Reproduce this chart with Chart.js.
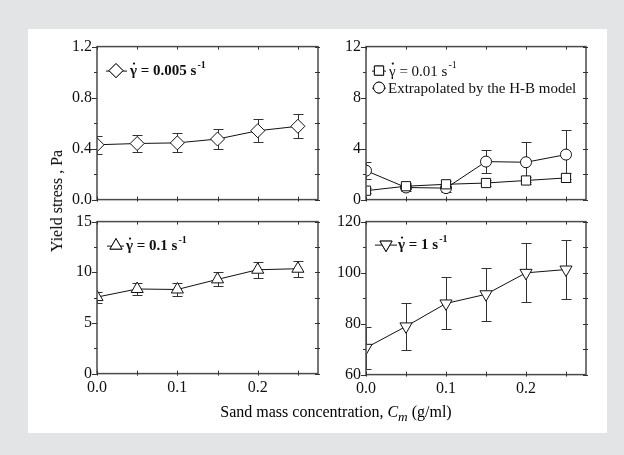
<!DOCTYPE html>
<html>
<head>
<meta charset="utf-8">
<script src="https://cdn.jsdelivr.net/npm/chart.js@4/dist/chart.umd.min.js"></script>
<style>
body { margin: 0; width: 624px; height: 455px; background: #e2e4e6; position: relative; overflow: hidden; font-family: "Liberation Serif", serif; }
#panel { position: absolute; left: 28px; top: 29px; width: 579px; height: 404px; background: #fff; }
canvas { position: absolute; }
#ylab { position: absolute; left: 57px; top: 201px; transform: translate(-50%, -50%) rotate(-90deg); font-size: 16px; white-space: nowrap; }
#xlab { position: absolute; left: 336px; top: 414px; transform: translate(-50%, -50%); font-size: 16px; white-space: nowrap; }
</style>
</head>
<body>
<div id="panel"></div>
<canvas id="c1" width="290" height="180"></canvas>
<canvas id="c2" width="290" height="180"></canvas>
<canvas id="c3" width="290" height="200"></canvas>
<canvas id="c4" width="290" height="200"></canvas>
<div id="ylab">Yield stress , Pa</div>
<div id="xlab">Sand mass concentration, <i>C</i><sub><i>m</i></sub> (g/ml)</div>
<script>
// sand mass concentration (g/ml)
var conc = [0, 0.05, 0.1, 0.15, 0.2, 0.25]
var xTicks = [0, 0.05, 0.1, 0.15, 0.2, 0.25]
var xLabels = ['0.0', '', '0.1', '', '0.2', '']

// shear rate 0.005 1/s
var stress005 = [0.43, 0.44, 0.445, 0.475, 0.54, 0.575]
var err005 = [0.07, 0.07, 0.075, 0.075, 0.09, 0.095]
// shear rate 0.01 1/s and H-B extrapolation
var stress001 = [0.7, 1.05, 1.2, 1.3, 1.5, 1.7]
var err001 = [0.2, 0.25, 0.25, 0.2, 0.3, 0.35]
var stressHB = [2.27, 0.95, 0.9, 2.98, 2.93, 3.53]
var errHB = [0.66, 0.3, 0.3, 0.88, 1.58, 1.93]
// shear rate 0.1 1/s
var stress01 = [7.55, 8.35, 8.3, 9.3, 10.25, 10.35]
var err01 = [0.55, 0.6, 0.6, 0.7, 0.8, 0.8]
// shear rate 1 1/s
var stress1 = [70.5, 78.9, 87.9, 91.5, 99.9, 101.2]
var err1 = [8.3, 9.2, 10.2, 10.5, 11.6, 11.7]

var yTicksA = [0, 0.2, 0.4, 0.6, 0.8, 1.0, 1.2]
var yLabelsA = ['0.0', '', '0.4', '', '0.8', '', '1.2']
var yTicksB = [0, 2, 4, 6, 8, 10, 12]
var yLabelsB = ['0', '', '4', '', '8', '', '12']
var yTicksC = [0, 2.5, 5, 7.5, 10, 12.5, 15]
var yLabelsC = ['0', '', '5', '', '10', '', '15']
var yTicksD = [60, 70, 80, 90, 100, 110, 120]
var yLabelsD = ['60', '', '80', '', '100', '', '120']

var FONT = '"Liberation Serif", serif'

function points(ys) {
    var out = []
    for (var i = 0; i < conc.length; i++) {
        out.push({x: conc[i], y: ys[i]})
    }
    return out
}

function series(ys, errs, style, radius, rotation) {
    return {
        data: points(ys),
        errors: errs,
        borderColor: '#111',
        borderWidth: 1,
        pointStyle: style,
        pointRadius: radius,
        pointRotation: rotation || 0,
        pointBackgroundColor: '#fff',
        pointBorderColor: '#111',
        pointBorderWidth: 1,
        tension: 0
    }
}

// error bars under the markers
var errorBarPlugin = {
    id: 'errorBars',
    beforeDatasetsDraw: function(chart) {
        var ctx = chart.ctx, a = chart.chartArea
        var xs = chart.scales.x, ys = chart.scales.y
        ctx.save()
        ctx.beginPath()
        ctx.rect(a.left, a.top, a.right - a.left, a.bottom - a.top)
        ctx.clip()
        ctx.strokeStyle = '#333'
        ctx.lineWidth = 1
        chart.data.datasets.forEach(function(ds) {
            ctx.beginPath()
            ds.data.forEach(function(p, i) {
                var px = Math.round(xs.getPixelForValue(p.x)) + 0.5
                var top = Math.round(ys.getPixelForValue(p.y + ds.errors[i])) + 0.5
                var bot = Math.round(ys.getPixelForValue(p.y - ds.errors[i])) + 0.5
                ctx.moveTo(px, top); ctx.lineTo(px, bot)
                ctx.moveTo(px - 5, top); ctx.lineTo(px + 5, top)
                ctx.moveTo(px - 5, bot); ctx.lineTo(px + 5, bot)
            })
            ctx.stroke()
        })
        ctx.restore()
    }
}

// box frame with small ticks on every side
var framePlugin = {
    id: 'frame',
    afterDraw: function(chart) {
        var ctx = chart.ctx, a = chart.chartArea
        var xs = chart.scales.x, ys = chart.scales.y
        ctx.save()
        ctx.strokeStyle = '#4a4a4a'
        ctx.lineWidth = 1.5
        ctx.strokeRect(a.left, a.top, a.right - a.left, a.bottom - a.top)
        ctx.lineWidth = 1
        ctx.strokeStyle = '#333'
        ctx.beginPath()
        xs.ticks.forEach(function(t) {
            var px = Math.round(xs.getPixelForValue(t.value)) + 0.5
            ctx.moveTo(px, a.bottom - 3); ctx.lineTo(px, a.bottom + 2)
            ctx.moveTo(px, a.top); ctx.lineTo(px, a.top + 3)
        })
        ys.ticks.forEach(function(t) {
            var py = Math.round(ys.getPixelForValue(t.value)) + 0.5
            var len = t.label ? 5 : 3
            ctx.moveTo(a.left - len, py); ctx.lineTo(a.left, py)
            ctx.moveTo(a.right - 3, py); ctx.lineTo(a.right + 2, py)
        })
        ctx.stroke()
        ctx.restore()
    }
}

function marker(ctx, style, r, rot, x, y) {
    ctx.fillStyle = '#fff'
    ctx.strokeStyle = '#111'
    ctx.lineWidth = 1
    Chart.helpers.drawPoint(ctx, {pointStyle: style, radius: r, rotation: rot, borderWidth: 1}, x, y)
    ctx.fill()
    ctx.stroke()
}

// legend written inside the plot box, positions relative to the box corner
var legendPlugin = {
    id: 'boxLegend',
    afterDraw: function(chart, args, opts) {
        var ctx = chart.ctx, a = chart.chartArea
        ctx.save()
        ;(opts.rows || []).forEach(function(row) {
            var y = a.top + row.y
            ctx.strokeStyle = '#111'
            ctx.lineWidth = 1
            ctx.beginPath()
            ctx.moveTo(a.left + row.x0, y + 0.5); ctx.lineTo(a.left + row.x1, y + 0.5)
            ctx.stroke()
            marker(ctx, row.style, row.r, row.rot || 0, a.left + row.mx, y)
            var tx = a.left + row.tx
            ctx.font = (row.bold ? 'bold ' : '') + '15px ' + FONT
            ctx.fillStyle = '#111'
            ctx.textBaseline = 'middle'
            ctx.textAlign = 'left'
            if (row.gamma) {
                ctx.fillText('\u03b3', tx, y + 1)
                var gw = ctx.measureText('\u03b3').width
                ctx.beginPath()
                ctx.arc(tx + gw / 2 + 0.5, y - 7, 1.1, 0, Math.PI * 2)
                ctx.fill()
                tx += gw
            }
            ctx.fillText(row.text, tx, y + 1)
            tx += ctx.measureText(row.text).width + 1
            if (row.sup) {
                ctx.font = (row.bold ? 'bold ' : '') + '10px ' + FONT
                ctx.fillText(row.sup, tx, y - 5)
            }
        })
        ctx.restore()
    }
}

// box = target plot frame on the page [left, top, right, bottom]
function makePanel(id, box, dsets, yMin, yMax, yTicks, yLabels, showX, rows) {
    var canvas = document.getElementById(id)
    var chart = new Chart(canvas, {
        type: 'line',
        data: {datasets: dsets},
        plugins: [errorBarPlugin, framePlugin, legendPlugin],
        options: {
            responsive: false,
            maintainAspectRatio: false,
            animation: false,
            devicePixelRatio: 1,
            layout: {padding: {top: 12, right: 12, left: 0, bottom: 0}},
            plugins: {
                legend: {display: false},
                tooltip: {enabled: false},
                boxLegend: {rows: rows}
            },
            scales: {
                x: {
                    type: 'linear',
                    min: 0,
                    max: 0.275,
                    afterBuildTicks: function(scale) {
                        scale.ticks = xTicks.map(function(v) { return {value: v} })
                    },
                    grid: {display: false, drawTicks: false},
                    border: {display: false},
                    ticks: {
                        display: showX,
                        padding: 5,
                        maxRotation: 0,
                        autoSkip: false,
                        color: '#111',
                        font: {family: FONT, size: 16},
                        callback: function(v, i) { return xLabels[i] }
                    }
                },
                y: {
                    min: yMin,
                    max: yMax,
                    afterBuildTicks: function(scale) {
                        scale.ticks = yTicks.map(function(v) { return {value: v} })
                    },
                    afterFit: function(scale) { scale.width = 57 },
                    grid: {display: false, drawTicks: false},
                    border: {display: false},
                    ticks: {
                        padding: 5,
                        autoSkip: false,
                        color: '#111',
                        font: {family: FONT, size: 16},
                        callback: function(v, i) { return yLabels[i] }
                    }
                }
            }
        }
    })
    // move and resize the canvas so the plot frame lands on the target box
    for (var k = 0; k < 3; k++) {
        var a = chart.chartArea
        var w = canvas.width + (box[2] - box[0]) - (a.right - a.left)
        var h = canvas.height + (box[3] - box[1]) - (a.bottom - a.top)
        chart.resize(w, h)
        a = chart.chartArea
        canvas.style.left = (box[0] - a.left) + 'px'
        canvas.style.top = (box[1] - a.top) + 'px'
    }
    return chart
}

makePanel('c1', [97, 47, 318, 200], [series(stress005, err005, 'rectRot', 7)], 0, 1.2, yTicksA, yLabelsA, false, [
    {x0: 9, x1: 30, mx: 19, y: 24, style: 'rectRot', r: 7, tx: 33, gamma: true, text: ' = 0.005 s', sup: '-1', bold: true}
])

makePanel('c2', [366, 47, 586, 200], [series(stress001, err001, 'rect', 6.5), series(stressHB, errHB, 'circle', 5.5)], 0, 12, yTicksB, yLabelsB, false, [
    {x0: 6, x1: 20, mx: 13, y: 24, style: 'rect', r: 6.5, tx: 23, gamma: true, text: ' = 0.01 s', sup: '-1', bold: false},
    {x0: 6, x1: 20, mx: 13, y: 41, style: 'circle', r: 5.5, tx: 22, gamma: false, text: 'Extrapolated by the H-B model', bold: false}
])

makePanel('c3', [97, 222, 318, 374], [series(stress01, err01, 'triangle', 7)], 0, 15, yTicksC, yLabelsC, true, [
    {x0: 10, x1: 27, mx: 19, y: 24, style: 'triangle', r: 7, tx: 29, gamma: true, text: ' = 0.1 s', sup: '-1', bold: true}
])

makePanel('c4', [366, 222, 586, 375], [series(stress1, err1, 'triangle', 7, 180)], 60, 120, yTicksD, yLabelsD, true, [
    {x0: 9, x1: 31, mx: 20, y: 23, style: 'triangle', r: 7, rot: 180, tx: 32, gamma: true, text: ' = 1 s', sup: '-1', bold: true}
])
</script>
</body>
</html>
